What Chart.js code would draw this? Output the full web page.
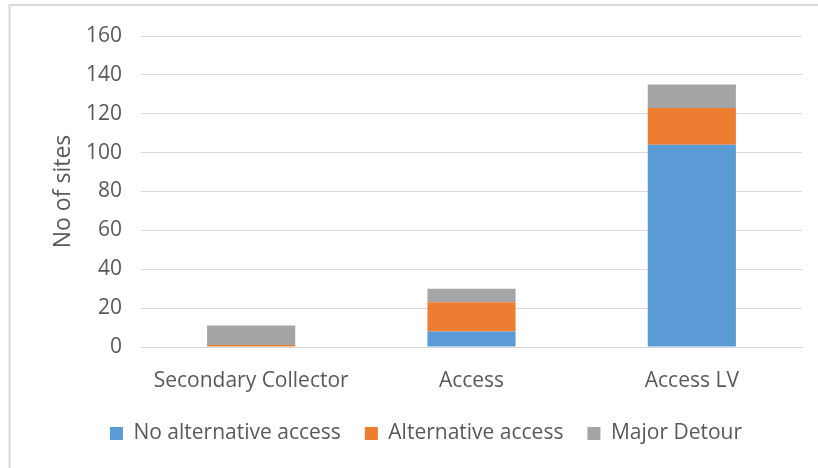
<!DOCTYPE html>
<html>
<head>
<meta charset="utf-8">
<script src="https://cdn.jsdelivr.net/npm/chart.js@4/dist/chart.umd.min.js"></script>
<style>
  html, body { margin: 0; padding: 0; background: #ffffff; }
  #wrap { width: 818px; height: 468px; position: relative; }
</style>
</head>
<body>
<div id="wrap"><canvas id="c" width="818" height="468"></canvas></div>
<script>
// Road hierarchy categories
const categories = ['Secondary Collector', 'Access', 'Access LV'];

// Number of sites per access type
const noAlternativeAccess = [0, 8, 104];
const alternativeAccess = [1, 15, 19];
const majorDetour = [10, 7, 12];

const seriesNames = ['No alternative access', 'Alternative access', 'Major Detour'];
const seriesColors = ['#5b9bd5', '#ed7d31', '#a5a5a5'];

const yTicks = [0, 20, 40, 60, 80, 100, 120, 140, 160];

const FONT = '"Open Sans", Lato, sans-serif';
const TEXT = '#595959';
const GRID = '#d9d9d9';

// Light frame around the chart
const framePlugin = {
  id: 'frame',
  beforeDraw(chart) {
    const ctx = chart.ctx;
    ctx.save();
    ctx.fillStyle = '#ffffff';
    ctx.fillRect(0, 0, chart.width, chart.height);
    ctx.strokeStyle = '#d9d9d9';
    ctx.lineWidth = 2;
    ctx.strokeRect(9.5, 5, chart.width + 10, chart.height + 10);
    ctx.restore();
  }
};

new Chart(document.getElementById('c'), {
  type: 'bar',
  data: {
    labels: categories,
    datasets: [noAlternativeAccess, alternativeAccess, majorDetour].map((d, i) => ({
      label: seriesNames[i],
      data: d,
      backgroundColor: seriesColors[i],
      borderWidth: 0,
      barPercentage: 0.4,
      categoryPercentage: 1.0
    }))
  },
  options: {
    responsive: false,
    animation: false,
    layout: { padding: { left: 50, right: 16, top: 36, bottom: 14 } },
    plugins: {
      legend: {
        position: 'bottom',
        labels: {
          color: TEXT,
          font: { family: FONT, size: 21 },
          boxWidth: 13,
          boxHeight: 13,
          padding: 24
        }
      },
      tooltip: { enabled: false }
    },
    scales: {
      x: {
        stacked: true,
        afterFit(s) { s.height = 52; },
        grid: { display: false, drawTicks: false },
        border: { display: true, color: GRID, width: 1 },
        ticks: { color: TEXT, font: { family: FONT, size: 21 }, padding: 21 }
      },
      y: {
        stacked: true,
        min: 0,
        max: 160,
        afterFit(s) { s.width = 91; },
        afterBuildTicks(s) { s.ticks = yTicks.map(v => ({ value: v })); },
        grid: { color: GRID, lineWidth: 1, drawTicks: false },
        border: { display: false },
        ticks: { color: TEXT, font: { family: FONT, size: 21 }, padding: 19 },
        title: {
          display: true,
          text: 'No of sites',
          color: TEXT,
          font: { family: FONT, size: 23 },
          padding: 0
        }
      }
    }
  },
  plugins: [framePlugin]
});
</script>
</body>
</html>
